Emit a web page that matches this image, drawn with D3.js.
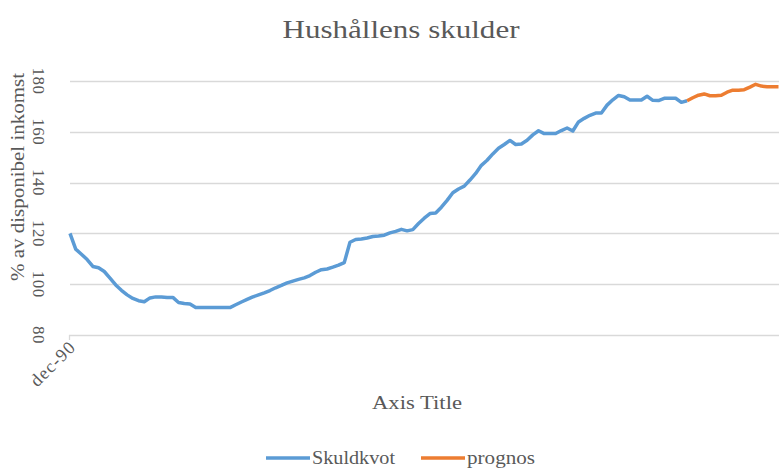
<!DOCTYPE html>
<html>
<head>
<meta charset="utf-8">
<script src="https://cdn.jsdelivr.net/npm/d3@7"></script>
<style>
  body { margin: 0; background: #fff; }
  text { font-family: "Liberation Serif", "Times New Roman", serif; fill: #595959; }
</style>
</head>
<body>
<svg></svg>
<script>
// kvartal fran dec-90, skuldkvot i % av disponibel inkomst
var skuldkvot = [
  120, 113.8, 111.8, 109.7, 107, 106.5, 105, 102.4, 99.7, 97.6,
  95.8, 94.4, 93.5, 93.1, 94.6, 95, 95, 94.8, 94.8, 92.8,
  92.4, 92.2, 90.8, 90.8, 90.8, 90.8, 90.8, 90.8, 90.8, 91.9,
  93, 94, 95, 95.8, 96.6, 97.5, 98.6, 99.5, 100.5, 101.2,
  101.9, 102.5, 103.4, 104.7, 105.7, 106, 106.7, 107.5, 108.5, 116.5,
  117.6, 117.8, 118.2, 118.8, 119, 119.3, 120.2, 120.8, 121.6, 121,
  121.5, 123.9, 126, 127.8, 128, 130.3, 133, 136, 137.5, 138.6,
  141, 143.6, 146.8, 148.8, 151.3, 153.5, 155, 156.6, 155, 155.2,
  156.7, 158.8, 160.4, 159.3, 159.3, 159.3, 160.5, 161.5, 160.3, 163.9,
  165.3, 166.5, 167.4, 167.4, 170.5, 172.6, 174.3, 173.8, 172.5, 172.5,
  172.5, 174, 172.4, 172.3, 173.2, 173.2, 173.2, 171.6, 172.2
];
// prognos startar pa sista skuldkvot-punkten
var prognos = [
  172.2, 173.4, 174.4, 174.9, 174.2, 174.2, 174.4, 175.6, 176.4, 176.4,
  176.6, 177.6, 178.7, 178, 177.7, 177.7, 177.7
];
var prognosStart = skuldkvot.length - 1;
var nPoints = prognosStart + prognos.length;

var yTicks = [80, 100, 120, 140, 160, 180];
var xLabels = ["dec-90"];

var svgWidth = 779, svgHeight = 468;
var plotLeft = 70, plotRight = 779, plotTop = 81, plotBottom = 335;

var svg = d3.select("svg")
    .attr("width", svgWidth)
    .attr("height", svgHeight);

var x = d3.scaleLinear()
    .domain([0, nPoints - 1])
    .range([plotLeft, plotRight - 0.5]);

var y = d3.scaleLinear()
    .domain([80, 180])
    .range([plotBottom, plotTop]);

// gridlines
svg.append("g")
    .selectAll("line")
    .data(yTicks.slice(1))
    .enter()
    .append("line")
    .attr("x1", plotLeft)
    .attr("x2", plotRight)
    .attr("y1", function(d) { return Math.round(y(d)) + 0.5; })
    .attr("y2", function(d) { return Math.round(y(d)) + 0.5; })
    .attr("stroke", "#d9d9d9")
    .attr("stroke-width", 1.3);

// x axis line + tick
svg.append("line")
    .attr("x1", plotLeft - 1).attr("x2", plotRight)
    .attr("y1", plotBottom + 0.5).attr("y2", plotBottom + 0.5)
    .attr("stroke", "#d9d9d9").attr("stroke-width", 1.3);
svg.append("line")
    .attr("x1", plotLeft - 0.5).attr("x2", plotLeft - 0.5)
    .attr("y1", plotBottom).attr("y2", plotBottom + 5)
    .attr("stroke", "#d9d9d9").attr("stroke-width", 1.3);

// y tick labels, rotated clockwise
svg.append("g")
    .selectAll("g")
    .data(yTicks)
    .enter()
    .append("g")
    .attr("transform", function(d) {
        return "translate(33," + y(d) + ") rotate(90)";
    })
    .append("text")
    .text(function(d) { return d; })
    .attr("text-anchor", "middle")
    .attr("font-size", "17px")
    .attr("letter-spacing", "0.5px");

// x label
svg.append("g")
    .selectAll("g")
    .data(xLabels)
    .enter()
    .append("g")
    .attr("transform", function(d, i) {
        return "translate(" + (x(i) + 7) + "," + (plotBottom + 13) + ") rotate(-45)";
    })
    .append("text")
    .text(function(d) { return d; })
    .attr("text-anchor", "end")
    .attr("font-size", "18px")
    .attr("letter-spacing", "1.2px");

var line = d3.line()
    .x(function(d) { return x(d[0]); })
    .y(function(d) { return y(d[1]); });

svg.append("path")
    .datum(skuldkvot.map(function(v, i) { return [i, v]; }))
    .attr("d", line)
    .attr("fill", "none")
    .attr("stroke", "#5b9bd5")
    .attr("stroke-width", 3.5)
    .attr("stroke-linejoin", "round");

svg.append("path")
    .datum(prognos.map(function(v, i) { return [prognosStart + i, v]; }))
    .attr("d", line)
    .attr("fill", "none")
    .attr("stroke", "#ed7d31")
    .attr("stroke-width", 3.5)
    .attr("stroke-linejoin", "round");

// titles
svg.append("text")
    .text("Hushållens skulder")
    .attr("x", 401).attr("y", 38)
    .attr("text-anchor", "middle")
    .attr("font-size", "26px")
    .attr("textLength", 237)
    .attr("lengthAdjust", "spacingAndGlyphs");

svg.append("g")
    .attr("transform", "translate(24,177) rotate(-90)")
    .append("text")
    .text("% av disponibel inkomst")
    .attr("text-anchor", "middle")
    .attr("font-size", "18px")
    .attr("textLength", 208)
    .attr("lengthAdjust", "spacingAndGlyphs");

svg.append("text")
    .text("Axis Title")
    .attr("x", 417).attr("y", 409)
    .attr("text-anchor", "middle")
    .attr("font-size", "18px")
    .attr("textLength", 90)
    .attr("lengthAdjust", "spacingAndGlyphs");

// legend
var legend = [
  { name: "Skuldkvot", color: "#5b9bd5", x: 266, w: 83 },
  { name: "prognos", color: "#ed7d31", x: 421, w: 68 }
];
var lg = svg.append("g")
    .selectAll("g")
    .data(legend)
    .enter()
    .append("g")
    .attr("transform", function(d) { return "translate(" + d.x + ",458)"; });
lg.append("line")
    .attr("x1", 0).attr("x2", 44)
    .attr("stroke", function(d) { return d.color; })
    .attr("stroke-width", 3.5);
lg.append("text")
    .text(function(d) { return d.name; })
    .attr("x", 46).attr("y", 6)
    .attr("font-size", "18px")
    .attr("textLength", function(d) { return d.w; })
    .attr("lengthAdjust", "spacingAndGlyphs");
</script>
</body>
</html>
